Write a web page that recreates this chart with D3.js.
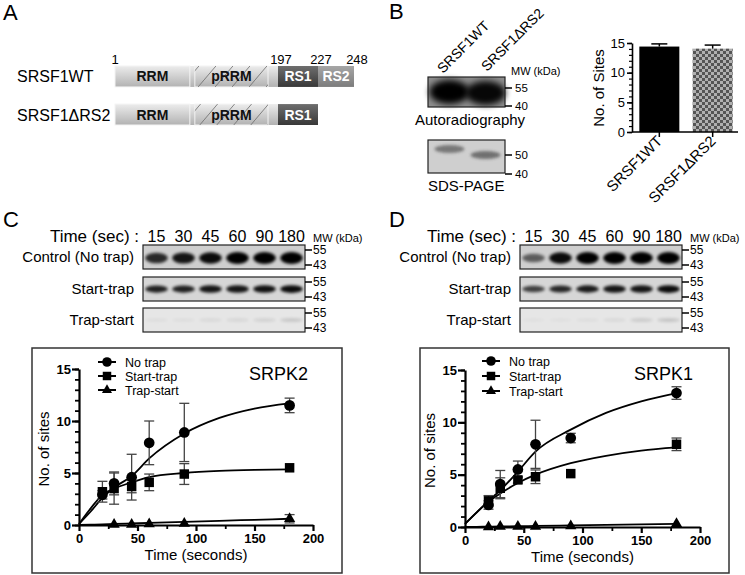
<!DOCTYPE html>
<html>
<head>
<meta charset="utf-8">
<script src="https://cdn.jsdelivr.net/npm/d3@7"></script>
<style>
  body { margin: 0; background: #fff; }
  text { font-family: "Liberation Sans", Arial, Helvetica, sans-serif; }
</style>
</head>
<body>
<div id="fig"></div>
<script>
// ---- panel A: domain map ----
const constructs = ["SRSF1WT", "SRSF1\u0394RS2"];
const constructEnd = [248, 227];
const domainNames = ["RRM", "pRRM", "RS1", "RS2"];
const domainStart = [1, 97, 197, 227];
const domainEnd = [91, 185, 227, 248];
const residueTicks = [1, 197, 227, 248];

// ---- panel B ----
const bLanes = ["SRSF1WT", "SRSF1\u0394RS2"];
const autoradBands = [1, 0.95];
const sdsBands = [0.55, 0.6];
const barValues = [14.4, 14.05];
const barErrors = [0.45, 0.6];

// ---- panels C / D gels ----
const laneTimes = ["15", "30", "45", "60", "90", "180"];
const gelRows = ["Control (No trap)", "Start-trap", "Trap-start"];
const srpk2Bands = [
  [0.8, 0.9, 0.95, 1, 1, 1],
  [0.85, 0.85, 0.9, 0.9, 0.92, 0.95],
  [0.04, 0.04, 0.06, 0.07, 0.09, 0.14]
];
const srpk1Bands = [
  [0.55, 0.95, 1, 1, 1, 1],
  [0.7, 0.82, 0.88, 0.9, 0.9, 0.95],
  [0.03, 0.03, 0.04, 0.06, 0.12, 0.15]
];

// ---- panels C / D kinetics ----
const timePoints = [20, 30, 45, 60, 90, 180];
const seriesNames = ["No trap", "Start-trap", "Trap-start"];

const srpk2NoTrap = [2.9, 4.0, 4.6, 7.9, 8.9, 11.5];
const srpk2NoTrapErr = [0.4, 1.1, 2.2, 2.1, 2.8, 0.7];
const srpk2StartTrap = [3.2, 3.5, 3.7, 4.1, 4.9, 5.5];
const srpk2StartTrapErr = [1.0, 1.5, 0.6, 0.8, 1.0, 0];
const srpk2TrapStart = [null, 0.05, 0.05, 0.1, 0.15, 0.6];
const srpk2TrapStartErr = [0, 0, 0, 0, 0, 0.4];

const srpk1NoTrap = [2.1, 4.1, 5.5, 7.9, 8.5, 12.8];
const srpk1NoTrapErr = [0.4, 1.3, 0.8, 2.3, 0.45, 0.6];
const srpk1StartTrap = [2.5, 3.7, 4.5, 4.8, 5.1, 7.9];
const srpk1StartTrapErr = [0.5, 1.0, 0.3, 0.65, 0, 0.6];
const srpk1TrapStart = [0, 0.05, 0.05, 0.05, 0.1, 0.3];
const srpk1TrapStartErr = [0, 0, 0, 0, 0, 0];

// fitted curves
const fitTimes = [0, 10, 20, 30, 45, 60, 90, 120, 150, 180];
const srpk2FitNoTrap = [0.1, 1.3, 2.6, 3.6, 4.7, 6.4, 8.8, 10.3, 11.2, 11.7];
const srpk2FitStartTrap = [0.1, 1.6, 2.9, 3.5, 4.1, 4.6, 5.0, 5.2, 5.3, 5.35];
const srpk2FitTrapStart = [0, 0.03, 0.06, 0.1, 0.15, 0.2, 0.3, 0.4, 0.5, 0.6];
const srpk1FitNoTrap = [0.3, 1.4, 2.5, 3.5, 5.3, 7.2, 9.3, 10.9, 12.0, 12.8];
const srpk1FitStartTrap = [0.3, 1.4, 2.4, 3.2, 4.2, 5.0, 6.1, 6.8, 7.3, 7.6];
const srpk1FitTrapStart = [0, 0.02, 0.03, 0.05, 0.07, 0.1, 0.15, 0.2, 0.25, 0.3];

const svg = d3.select("#fig").append("svg")
  .attr("width", 745)
  .attr("height", 575);
const defs = svg.append("defs");

function addGrad(id, top, bottom) {
  const g = defs.append("linearGradient").attr("id", id)
    .attr("x1", 0).attr("y1", 0).attr("x2", 0).attr("y2", 1);
  g.append("stop").attr("offset", "0%").attr("stop-color", top);
  g.append("stop").attr("offset", "100%").attr("stop-color", bottom);
}
addGrad("gLight", "#ececec", "#b2b2b2");
addGrad("gDark", "#6e6e6e", "#383838");
addGrad("gMid", "#a6a6a6", "#7c7c7c");

const hatch = defs.append("pattern").attr("id", "hatch")
  .attr("patternUnits", "userSpaceOnUse")
  .attr("width", 17).attr("height", 20);
hatch.append("path").attr("d", "M0,20L17,0")
  .attr("stroke", "#6a6a6a").attr("stroke-width", 0.8);

const checker = defs.append("pattern").attr("id", "checker")
  .attr("patternUnits", "userSpaceOnUse")
  .attr("width", 6).attr("height", 6);
checker.append("rect").attr("width", 6).attr("height", 6).attr("fill", "#b0b0b0");
checker.append("rect").attr("width", 3).attr("height", 3).attr("fill", "#555");
checker.append("rect").attr("x", 3).attr("y", 3).attr("width", 3).attr("height", 3).attr("fill", "#555");

defs.append("filter").attr("id", "blur").attr("x", "-50%").attr("y", "-100%")
  .attr("width", "200%").attr("height", "300%")
  .append("feGaussianBlur").attr("stdDeviation", 1.6);
defs.append("filter").attr("id", "blurBig").attr("x", "-50%").attr("y", "-100%")
  .attr("width", "200%").attr("height", "300%")
  .append("feGaussianBlur").attr("stdDeviation", 3);

// panel letters
[["A", 3, 20], ["B", 389, 19], ["C", 3, 227], ["D", 389, 227]].forEach(d => {
  svg.append("text").attr("x", d[1]).attr("y", d[2])
    .attr("font-size", 22).text(d[0]);
});

// ================= panel A =================
const resScale = d3.scaleLinear()
  .domain([1, 197, 227, 248])
  .range([115, 278, 318, 354]);
const rowScale = d3.scaleBand().domain(constructs).range([66, 125]).paddingInner(0.45);

const gA = svg.append("g");
residueTicks.forEach(r => {
  gA.append("text").attr("x", resScale(r) + (r === 1 ? 0 : 3)).attr("y", 64)
    .attr("text-anchor", "middle").attr("font-size", 13).text(r);
});

constructs.forEach((c, ci) => {
  const y = rowScale(c), h = rowScale.bandwidth();
  gA.append("text").attr("x", 17).attr("y", y + h / 2 + 6)
    .attr("font-size", 16).text(c);
  // light backbone under the folded domains
  gA.append("rect").attr("x", resScale(1)).attr("y", y)
    .attr("width", resScale(197) - resScale(1)).attr("height", h)
    .attr("fill", "url(#gLight)");
  domainNames.forEach((name, i) => {
    if (domainEnd[i] > constructEnd[ci]) return;
    const x0 = resScale(domainStart[i]), x1 = resScale(domainEnd[i]);
    const fill = name === "RS1" ? "url(#gDark)" : name === "RS2" ? "url(#gMid)" : "url(#gLight)";
    gA.append("rect").attr("x", x0).attr("y", y).attr("width", x1 - x0).attr("height", h)
      .attr("fill", fill)
      .attr("stroke", name.startsWith("RS") ? "none" : "#f4f4f4").attr("stroke-width", 1);
    if (name === "pRRM") {
      gA.append("rect").attr("x", x0).attr("y", y).attr("width", x1 - x0).attr("height", h)
        .attr("fill", "url(#hatch)");
    }
    gA.append("text").attr("x", (x0 + x1) / 2).attr("y", y + h / 2 + 5)
      .attr("text-anchor", "middle").attr("font-size", 14).attr("font-weight", "bold")
      .attr("fill", name.startsWith("RS") ? "#fff" : "#111").text(name);
  });
});

// ================= panel B gels =================
const bLane = d3.scaleBand().domain(bLanes).range([430, 505]).padding(0.08);
const gB = svg.append("g");
bLanes.forEach((l, i) => {
  gB.append("text")
    .attr("transform", `translate(${bLane(l) + 10 + i * 8},${74 - i * 2}) rotate(-45)`)
    .attr("font-size", 14).text(l);
});
gB.append("text").attr("x", 511).attr("y", 75).attr("font-size", 11).text("MW (kDa)");

function mwTicks(g, x, ticks) {
  ticks.forEach(t => {
    g.append("line").attr("x1", x).attr("x2", x + 7).attr("y1", t[1]).attr("y2", t[1])
      .attr("stroke", "#000").attr("stroke-width", 1.5);
    g.append("text").attr("x", x + 10).attr("y", t[1] + 3.5).attr("font-size", 11.5).text(t[0]);
  });
}

// autoradiography
gB.append("rect").attr("x", 428).attr("y", 77).attr("width", 77).attr("height", 30)
  .attr("fill", "#8e8e8e");
bLanes.forEach((l, i) => {
  gB.append("ellipse").attr("cx", bLane.bandwidth() / 2 + bLane(l)).attr("cy", 92 + i)
    .attr("rx", 20).attr("ry", 12)
    .attr("fill", "#000").attr("opacity", autoradBands[i]).attr("filter", "url(#blurBig)");
});
gB.append("rect").attr("x", 428).attr("y", 77).attr("width", 77).attr("height", 30)
  .attr("fill", "none").attr("stroke", "#222").attr("stroke-width", 1.2);
mwTicks(gB, 505, [["55", 88], ["40", 106]]);
gB.append("text").attr("x", 415).attr("y", 125).attr("font-size", 15).text("Autoradiography");

// SDS-PAGE
gB.append("rect").attr("x", 428).attr("y", 140).attr("width", 77).attr("height", 33)
  .attr("fill", "#cfcfcf");
bLanes.forEach((l, i) => {
  gB.append("ellipse").attr("cx", bLane.bandwidth() / 2 + bLane(l)).attr("cy", 149 + i * 6)
    .attr("rx", 15).attr("ry", 4)
    .attr("fill", "#333").attr("opacity", sdsBands[i]).attr("filter", "url(#blur)");
});
gB.append("rect").attr("x", 428).attr("y", 140).attr("width", 77).attr("height", 33)
  .attr("fill", "none").attr("stroke", "#222").attr("stroke-width", 1.2);
mwTicks(gB, 505, [["50", 155], ["40", 174]]);
gB.append("text").attr("x", 428).attr("y", 191).attr("font-size", 15).text("SDS-PAGE");

// ================= panel B bar chart =================
const bx = d3.scaleBand().domain(bLanes).range([634, 738]).paddingInner(0.25).paddingOuter(0.1);
const by = d3.scaleLinear().domain([0, 15]).range([132, 43]);
const gBar = svg.append("g");
gBar.selectAll("rect.bar").data(barValues).enter().append("rect")
  .attr("x", (d, i) => bx(bLanes[i]))
  .attr("y", d => by(d))
  .attr("width", bx.bandwidth())
  .attr("height", d => by(0) - by(d))
  .attr("fill", (d, i) => i === 0 ? "#000" : "url(#checker)");
barValues.forEach((v, i) => {
  const cx = bx(bLanes[i]) + bx.bandwidth() / 2;
  gBar.append("line").attr("x1", cx).attr("x2", cx).attr("y1", by(v)).attr("y2", by(v + barErrors[i]))
    .attr("stroke", "#000").attr("stroke-width", 1.5);
  gBar.append("line").attr("x1", cx - 8).attr("x2", cx + 8)
    .attr("y1", by(v + barErrors[i])).attr("y2", by(v + barErrors[i]))
    .attr("stroke", "#000").attr("stroke-width", 1.5);
});
gBar.append("g").attr("transform", "translate(632,0)")
  .call(d3.axisLeft(by).tickValues(d3.range(0, 16)).tickSize(3).tickFormat(""))
  .call(g => g.select(".domain").remove())
  .selectAll("line").attr("stroke-width", 1.2);
gBar.append("g").attr("transform", "translate(632,0)")
  .call(d3.axisLeft(by).tickValues([0, 5, 10, 15]).tickSize(5).tickSizeOuter(0).tickPadding(2))
  .call(g => g.selectAll("text").attr("font-size", 13).attr("font-family", null))
  .call(g => g.selectAll("line, .domain").attr("stroke-width", 1.6));
gBar.append("line").attr("x1", 632).attr("x2", 738).attr("y1", by(0)).attr("y2", by(0))
  .attr("stroke", "#000").attr("stroke-width", 1.6);
bLanes.forEach(l => {
  const cx = bx(l) + bx.bandwidth() / 2;
  gBar.append("line").attr("x1", cx).attr("x2", cx).attr("y1", by(0)).attr("y2", by(0) + 5)
    .attr("stroke", "#000").attr("stroke-width", 1.5);
  gBar.append("text").attr("transform", `translate(${cx + 4},${by(0) + 10}) rotate(-45)`)
    .attr("text-anchor", "end").attr("font-size", 15).text(l);
});
gBar.append("text").attr("transform", "translate(604,88) rotate(-90)")
  .attr("text-anchor", "middle").attr("font-size", 15).text("No. of Sites");

// ================= panels C / D gels =================
function drawGels(x0, x1, labelRight, bands) {
  const g = svg.append("g");
  const lane = d3.scaleBand().domain(laneTimes).range([x0, x1]);
  const rowTop = d3.scaleOrdinal().domain(gelRows).range([245, 277, 308]);
  const rowFill = ["#cfcfcf", "#d6d6d6", "#e6e6e6"];
  g.append("text").attr("x", labelRight + 5).attr("y", 242).attr("text-anchor", "end")
    .attr("font-size", 17).text("Time (sec) :");
  laneTimes.forEach(t => {
    g.append("text").attr("x", lane(t) + lane.bandwidth() / 2).attr("y", 242)
      .attr("text-anchor", "middle").attr("font-size", 16).text(t);
  });
  g.append("text").attr("x", x1 + 8).attr("y", 242).attr("font-size", 11).text("MW (kDa)");
  gelRows.forEach((r, ri) => {
    const top = rowTop(r);
    g.append("text").attr("x", labelRight).attr("y", top + 17).attr("text-anchor", "end")
      .attr("font-size", 15).text(r);
    g.append("rect").attr("x", x0).attr("y", top).attr("width", x1 - x0).attr("height", 24)
      .attr("fill", rowFill[ri]);
    g.selectAll(null).data(bands[ri]).enter().append("ellipse")
      .attr("cx", (d, i) => lane(laneTimes[i]) + lane.bandwidth() / 2)
      .attr("cy", top + (ri === 0 ? 13 : 12))
      .attr("rx", lane.bandwidth() * 0.42)
      .attr("ry", d => ri === 0 ? 2 + 4 * d : 1.5 + 2.5 * d)
      .attr("fill", "#000")
      .attr("opacity", d => d)
      .attr("filter", "url(#blur)");
    g.append("rect").attr("x", x0).attr("y", top).attr("width", x1 - x0).attr("height", 24)
      .attr("fill", "none").attr("stroke", "#222").attr("stroke-width", 1.2);
    [["55", top + 5], ["43", top + 20]].forEach(t => {
      g.append("line").attr("x1", x1).attr("x2", x1 + 7).attr("y1", t[1]).attr("y2", t[1])
        .attr("stroke", "#000").attr("stroke-width", 1.5);
      g.append("text").attr("x", x1 + 8).attr("y", t[1] + 4).attr("font-size", 12).text(t[0]);
    });
  });
}
drawGels(143, 305, 134, srpk2Bands);
drawGels(520, 682, 511, srpk1Bands);

// ================= panels C / D kinetics =================
function drawKinetics(opt) {
  const g = svg.append("g");
  g.append("rect").attr("x", opt.box[0]).attr("y", opt.box[1])
    .attr("width", opt.box[2]).attr("height", opt.box[3])
    .attr("fill", "none").attr("stroke", "#333").attr("stroke-width", 1.5);
  const x = d3.scaleLinear().domain([0, 200]).range(opt.xr);
  const y = d3.scaleLinear().domain([0, 15]).range(opt.yr);

  // axes
  g.append("g").attr("transform", `translate(${opt.xr[0]},0)`)
    .call(d3.axisLeft(y).tickValues(d3.range(0, 16)).tickSize(4).tickFormat(""))
    .call(a => a.select(".domain").remove())
    .selectAll("line").attr("stroke-width", 1.8);
  g.append("g").attr("transform", `translate(${opt.xr[0]},0)`)
    .call(d3.axisLeft(y).tickValues([0, 5, 10, 15]).tickSize(7).tickSizeOuter(0).tickPadding(1))
    .call(a => a.selectAll("text").attr("font-size", 13).attr("font-weight", "bold").attr("font-family", null))
    .call(a => a.selectAll("line, .domain").attr("stroke-width", 2.2));
  g.append("g").attr("transform", `translate(0,${opt.yr[0]})`)
    .call(d3.axisBottom(x).tickValues([25, 75, 125, 175]).tickSize(4).tickFormat(""))
    .call(a => a.select(".domain").remove())
    .selectAll("line").attr("stroke-width", 1.8);
  g.append("g").attr("transform", `translate(0,${opt.yr[0]})`)
    .call(d3.axisBottom(x).tickValues([0, 50, 100, 150, 200]).tickSize(6).tickSizeOuter(0).tickPadding(3))
    .call(a => a.selectAll("text").attr("font-size", 13).attr("font-weight", "bold").attr("font-family", null))
    .call(a => a.selectAll("line, .domain").attr("stroke-width", 2.2));

  g.append("text").attr("transform", `translate(${opt.xr[0] - 30},${(opt.yr[0] + opt.yr[1]) / 2 + 2}) rotate(-90)`)
    .attr("text-anchor", "middle").attr("font-size", 15).text("No. of sites");
  g.append("text").attr("x", (opt.xr[0] + opt.xr[1]) / 2).attr("y", opt.yr[0] + 35)
    .attr("text-anchor", "middle").attr("font-size", 15).text("Time (seconds)");
  g.append("text").attr("x", opt.titleX).attr("y", 380).attr("font-size", 18).text(opt.title);

  const symbols = [d3.symbolCircle, d3.symbolSquare, d3.symbolTriangle];
  const symSize = [90, 90, 55];

  // fitted curves
  const line = d3.line().curve(d3.curveMonotoneX)
    .x((d, i) => x(fitTimes[i])).y(d => y(d));
  opt.fits.forEach(f => {
    g.append("path").attr("d", line(f)).attr("fill", "none")
      .attr("stroke", "#000").attr("stroke-width", 1.8);
  });

  // error bars then points
  opt.series.forEach((s, si) => {
    s.forEach((v, i) => {
      const e = opt.errors[si][i];
      if (v === null || !e) return;
      const cx = x(timePoints[i]);
      g.append("line").attr("x1", cx).attr("x2", cx).attr("y1", y(v - e)).attr("y2", y(v + e))
        .attr("stroke", "#444").attr("stroke-width", 1.3);
      [v - e, v + e].forEach(w => {
        g.append("line").attr("x1", cx - 5).attr("x2", cx + 5).attr("y1", y(w)).attr("y2", y(w))
          .attr("stroke", "#444").attr("stroke-width", 1.3);
      });
    });
  });
  opt.series.forEach((s, si) => {
    g.selectAll(null).data(s.map((v, i) => [timePoints[i], v]).filter(d => d[1] !== null))
      .enter().append("path")
      .attr("transform", d => `translate(${x(d[0])},${y(d[1])})`)
      .attr("d", d3.symbol().type(symbols[si]).size(symSize[si]))
      .attr("fill", "#000");
  });

  // legend
  seriesNames.forEach((n, i) => {
    const ly = opt.legY[i];
    g.append("line").attr("x1", opt.legX).attr("x2", opt.legX + 18).attr("y1", ly).attr("y2", ly)
      .attr("stroke", "#000").attr("stroke-width", 2);
    g.append("path").attr("transform", `translate(${opt.legX + 9},${ly})`)
      .attr("d", d3.symbol().type(symbols[i]).size(symSize[i] * 0.8)).attr("fill", "#000");
    g.append("text").attr("x", opt.legX + 27).attr("y", ly + 4.5).attr("font-size", 12.5).text(n);
  });
}

drawKinetics({
  box: [32, 348, 310, 225], xr: [79, 313], yr: [525, 369],
  title: "SRPK2", titleX: 249, legX: 98, legY: [362, 376, 390],
  series: [srpk2NoTrap, srpk2StartTrap, srpk2TrapStart],
  errors: [srpk2NoTrapErr, srpk2StartTrapErr, srpk2TrapStartErr],
  fits: [srpk2FitNoTrap, srpk2FitStartTrap, srpk2FitTrapStart]
});
drawKinetics({
  box: [420, 348, 309, 225], xr: [465, 700], yr: [527, 370],
  title: "SRPK1", titleX: 634, legX: 482, legY: [361, 376, 391],
  series: [srpk1NoTrap, srpk1StartTrap, srpk1TrapStart],
  errors: [srpk1NoTrapErr, srpk1StartTrapErr, srpk1TrapStartErr],
  fits: [srpk1FitNoTrap, srpk1FitStartTrap, srpk1FitTrapStart]
});
</script>
</body>
</html>
